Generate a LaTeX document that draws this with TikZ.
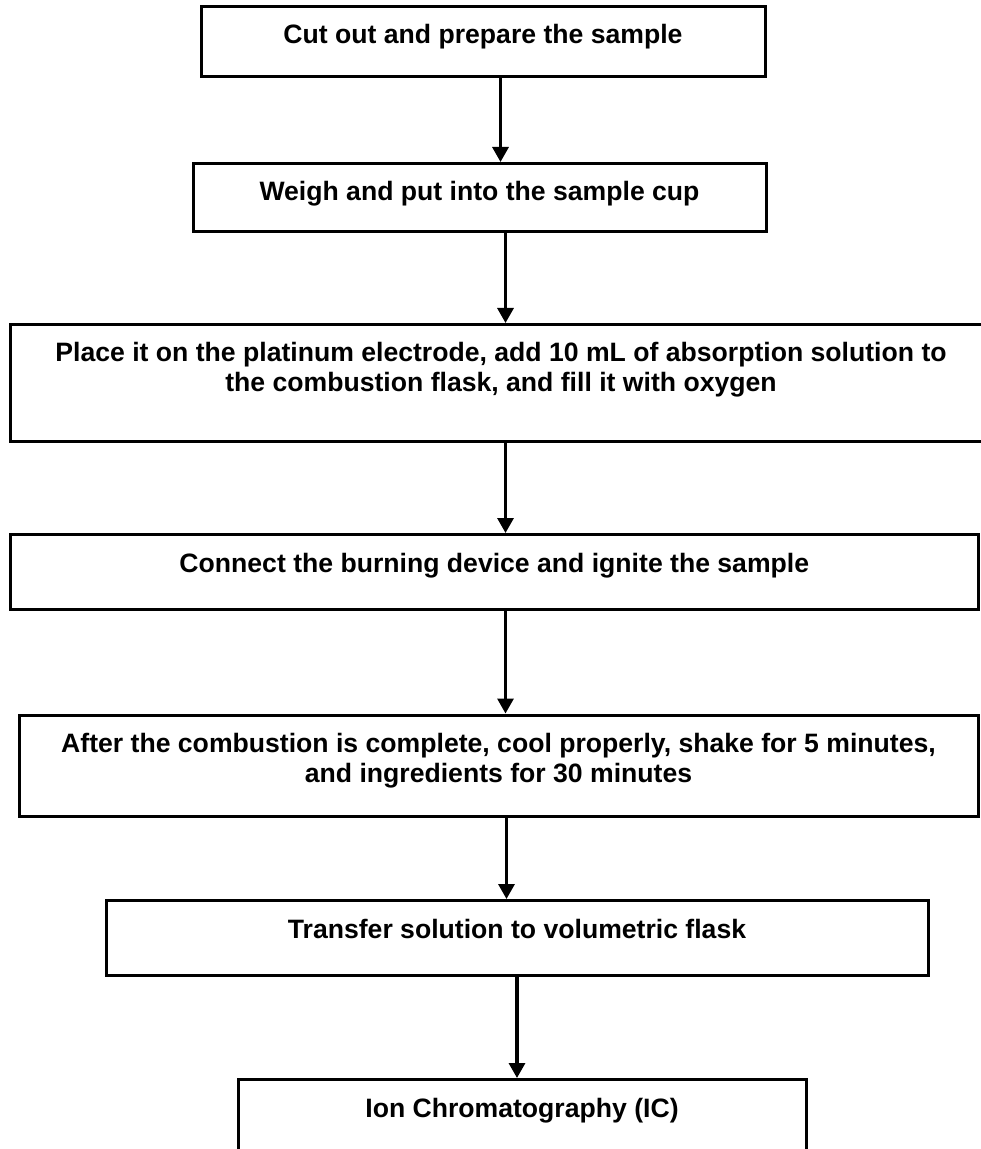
\documentclass[tikz,border=0pt]{standalone}
\usepackage{fontspec}
\setmainfont{Liberation Sans}
\usetikzlibrary{arrows.meta}

\begin{document}
\begin{tikzpicture}[x=0.5pt,y=-0.5pt,
    stepbox/.style={draw, line width=1.5pt, rectangle, anchor=north, inner sep=0pt,
      align=center, text height=18.75pt, font=\bfseries\fontsize{13.3}{14.8}\selectfont},
    twoline/.style={text height=33.55pt},
    flow/.style={line width=1.6pt, -{Triangle[width=8pt,length=7.5pt]}}]
  \useasboundingbox (0,0) rectangle (980,1149);

  % Step boxes
  \node[stepbox, minimum width=282pt, text depth=16.25pt] (cut) at (483,5) {Cut out and prepare the sample};
  \node[stepbox, minimum width=286.5pt, text depth=15.5pt] (weigh) at (479.5,162) {Weigh and put into the sample cup};
  \node[stepbox, twoline, minimum width=491pt, text depth=24.95pt] (place) at (501,323)
    {Place it on the platinum electrode, add 10 mL of absorption solution to\\the combustion flask, and fill it with oxygen};
  \node[stepbox, minimum width=483.7pt, text depth=18.75pt] (ignite) at (494.3,533) {Connect the burning device and ignite the sample};
  \node[stepbox, twoline, minimum width=479.5pt, text depth=17.2pt] (shake) at (498.5,713.5)
    {After the combustion is complete, cool properly, shake for 5 minutes,\\and ingredients for 30 minutes};
  \node[stepbox, minimum width=411pt, text depth=18.5pt] (transfer) at (517,899) {Transfer solution to volumetric flask};
  \node[stepbox, minimum width=284pt, text depth=19pt] (ic) at (522,1078) {Ion Chromatography (IC)};

  % Arrow columns
  \coordinate (xa) at (500.5,0);
  \coordinate (xb) at (505.5,0);
  \coordinate (xc) at (506.5,0);
  \coordinate (xd) at (517,0);

  % Arrows
  \draw[flow] (cut.south -| xa) -- (weigh.north -| xa);
  \draw[flow] (weigh.south -| xb) -- (place.north -| xb);
  \draw[flow] (place.south -| xb) -- (ignite.north -| xb);
  \draw[flow] (ignite.south -| xb) -- (shake.north -| xb);
  \draw[flow] (shake.south -| xc) -- (transfer.north -| xc);
  \draw[flow] (transfer.south -| xd) -- (ic.north -| xd);
\end{tikzpicture}
\end{document}
